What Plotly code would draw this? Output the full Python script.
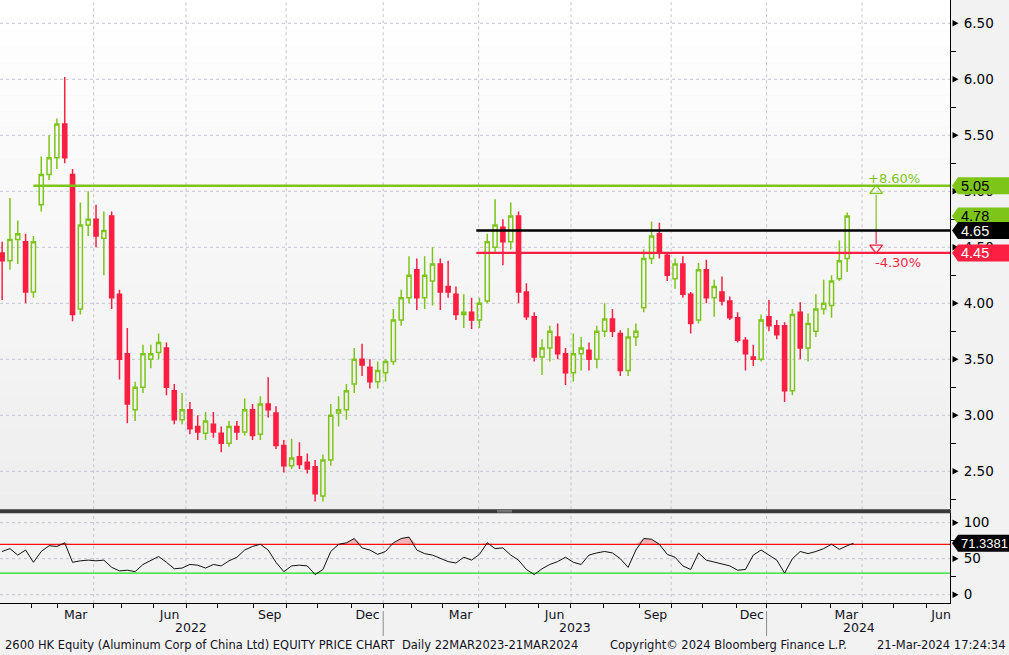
import numpy as np
import pandas as pd
import plotly.graph_objects as go

# ---------------- data ----------------
HK_HOLIDAYS = [
    "2022-02-01", "2022-02-02", "2022-02-03", "2022-04-05", "2022-04-15", "2022-04-18",
    "2022-05-02", "2022-05-09", "2022-06-03", "2022-07-01", "2022-09-12", "2022-10-04",
    "2022-12-26", "2022-12-27",
    "2023-01-02", "2023-01-23", "2023-01-24", "2023-01-25", "2023-04-05", "2023-04-07",
    "2023-04-10", "2023-05-01", "2023-05-26", "2023-06-22", "2023-09-08", "2023-10-02",
    "2023-10-23", "2023-12-25", "2023-12-26",
    "2024-01-01", "2024-02-12", "2024-02-13", "2024-03-29", "2024-04-01", "2024-04-04",
    "2024-05-01", "2024-05-15", "2024-06-10",
]

# one candle per 5 trading days
opens = [4.45, 4.38, 4.57, 4.55, 4.10, 4.88, 5.15, 5.30, 5.60, 5.15,
         3.95, 4.70, 4.75, 4.58, 4.78, 4.08, 3.55, 3.05, 3.25, 3.50,
         3.56, 3.60, 3.22, 2.96, 3.05, 2.90, 2.84, 2.92, 2.84, 2.75,
         2.90, 2.85, 3.05, 2.83, 3.10, 3.02, 2.73, 2.55, 2.63, 2.58,
         2.54, 2.28, 2.60, 3.02, 3.05, 3.28, 3.50, 3.43, 3.30, 3.38,
         3.48, 3.85, 4.05, 4.30, 4.05, 4.20, 4.35, 4.15, 4.08, 3.90,
         3.92, 3.85, 4.02, 4.50, 4.68, 4.55, 4.78, 4.10, 3.88, 3.52,
         3.60, 3.70, 3.55, 3.38, 3.55, 3.58, 3.50, 3.75, 3.86, 3.73,
         3.40, 3.70, 3.96, 4.40, 4.62, 4.43, 4.22, 4.35, 4.08, 3.85,
         4.30, 4.05, 4.10, 4.02, 3.87, 3.67, 3.52, 3.50, 3.88, 3.80,
         3.80, 3.22, 3.92, 3.60, 3.75, 3.95, 3.98, 4.22, 4.40]
highs = [4.55, 4.94, 4.74, 4.62, 4.60, 5.31, 5.50, 5.65, 6.02, 5.20,
         4.90, 5.00, 4.88, 4.82, 4.82, 4.12, 3.78, 3.30, 3.63, 3.63,
         3.73, 3.65, 3.28, 3.20, 3.12, 3.00, 3.03, 3.03, 2.90, 2.95,
         2.95, 3.15, 3.10, 3.17, 3.34, 3.08, 2.78, 2.79, 2.76, 2.66,
         2.60, 2.65, 3.10, 3.17, 3.28, 3.60, 3.64, 3.50, 3.48, 3.50,
         3.95, 4.12, 4.42, 4.40, 4.42, 4.50, 4.40, 4.38, 4.15, 4.08,
         4.05, 4.05, 4.62, 4.93, 4.75, 4.90, 4.82, 4.18, 3.92, 3.68,
         3.80, 3.82, 3.60, 3.73, 3.70, 3.65, 3.80, 4.00, 3.95, 3.76,
         3.78, 3.82, 4.48, 4.73, 4.72, 4.45, 4.40, 4.42, 4.10, 4.36,
         4.39, 4.21, 4.24, 4.06, 3.92, 3.70, 3.63, 3.90, 4.03, 3.85,
         3.83, 3.95, 4.01, 3.91, 4.08, 4.21, 4.25, 4.56, 4.81]
lows = [4.03, 4.30, 4.35, 4.00, 4.05, 4.82, 5.10, 5.20, 5.25, 3.84,
        3.90, 4.60, 4.50, 4.25, 3.95, 3.32, 2.93, 2.95, 3.20, 3.42,
        3.50, 3.18, 2.92, 2.92, 2.83, 2.78, 2.78, 2.80, 2.67, 2.72,
        2.78, 2.82, 2.78, 2.78, 2.98, 2.70, 2.49, 2.52, 2.52, 2.48,
        2.23, 2.23, 2.55, 2.90, 2.96, 3.20, 3.35, 3.24, 3.24, 3.30,
        3.45, 3.80, 4.00, 3.94, 3.95, 3.98, 3.94, 4.05, 3.85, 3.78,
        3.77, 3.78, 4.00, 4.45, 4.34, 4.48, 4.00, 3.85, 3.48, 3.36,
        3.48, 3.50, 3.27, 3.30, 3.40, 3.40, 3.42, 3.70, 3.70, 3.35,
        3.35, 3.62, 3.92, 4.35, 4.40, 4.20, 4.13, 4.05, 3.73, 3.82,
        4.00, 3.88, 3.98, 3.85, 3.65, 3.40, 3.44, 3.48, 3.75, 3.68,
        3.12, 3.18, 3.50, 3.48, 3.70, 3.90, 3.87, 4.20, 4.28]
closes = [4.38, 4.57, 4.62, 4.10, 4.55, 5.15, 5.30, 5.60, 5.30, 3.90,
          4.70, 4.75, 4.60, 4.65, 4.05, 3.50, 3.10, 3.25, 3.55, 3.55,
          3.65, 3.25, 2.96, 3.05, 2.88, 2.85, 2.95, 2.85, 2.75, 2.90,
          2.85, 3.05, 2.82, 3.10, 3.05, 2.73, 2.55, 2.62, 2.56, 2.52,
          2.30, 2.60, 3.00, 3.05, 3.22, 3.50, 3.45, 3.30, 3.40, 3.48,
          3.85, 4.05, 4.25, 4.05, 4.25, 4.35, 4.10, 4.10, 3.90, 3.92,
          3.85, 4.00, 4.55, 4.70, 4.55, 4.78, 4.10, 3.88, 3.52, 3.60,
          3.75, 3.55, 3.38, 3.55, 3.60, 3.50, 3.75, 3.86, 3.75, 3.40,
          3.70, 3.75, 4.40, 4.60, 4.45, 4.25, 4.35, 4.08, 3.82, 4.30,
          4.05, 4.15, 4.02, 3.87, 3.67, 3.55, 3.50, 3.85, 3.80, 3.72,
          3.22, 3.90, 3.60, 3.82, 3.95, 4.00, 4.20, 4.38, 4.78]

rsi_vals = [60, 64, 55, 62, 45, 60, 68, 67, 72, 45,
            47, 48, 47, 48, 38, 33, 34, 32, 42, 48,
            53, 45, 36, 37, 42, 41, 37, 42, 40, 47,
            52, 62, 67, 70, 62, 45, 32, 40, 41, 40,
            28, 35, 60, 70, 72, 78, 65, 62, 56, 60,
            72, 78, 80, 62, 57, 55, 50, 46, 44, 52,
            48, 56, 72, 64, 65, 55, 48, 35, 28, 36,
            42, 46, 52, 45, 42, 55, 58, 60, 58, 50,
            38, 62, 78, 77, 70, 56, 52, 40, 35, 58,
            48, 45, 42, 40, 34, 35, 55, 62, 55, 48,
            30, 50, 60, 57, 60, 64, 70, 63, 68]
rsi_last = 71.3381
last_date = "2024-03-21"
last_price = 4.78

level_up, level_mid, level_dn = 5.05, 4.65, 4.45
level_up_start = "2022-02-07"
level_pair_start = "2023-03-30"
pct_up_text, pct_dn_text = "+8.60%", "-4.30%"

price_ticks = [2.5, 3.0, 3.5, 4.0, 4.5, 5.0, 5.5, 6.0, 6.5]
rsi_ticks = [0, 50, 100]
rsi_hi, rsi_lo = 70, 30
month_labels = {3: "Mar", 6: "Jun", 9: "Sep", 12: "Dec"}

footer_left = "2600 HK Equity (Aluminum Corp of China Ltd) EQUITY PRICE CHART  Daily 22MAR2023-21MAR2024"
footer_mid = "Copyright\u00a9 2024 Bloomberg Finance L.P."
footer_right = "21-Mar-2024 17:24:34"

# ---------------- styling ----------------
GREEN = "#7ec51a"
RED = "#fc1f42"
GRID = "#c2c6d0"
FONT = "DejaVu Sans"
TAGFONT = "Liberation Sans"
W, H = 1009, 655
ML, MR, MT, MB = 0, 59, 0, 52
PW = W - ML - MR          # 950
PH = H - MT - MB          # 603

XMIN, XMAX = 0.64, 607.7
PRICE_DOM = [0.1554, 1.0]
RSI_DOM = [0.0, 0.1488]
PRANGE = [2.161, 6.708]
RRANGE = [-11.53, 113.06]
ppu = PH * (PRICE_DOM[1] - PRICE_DOM[0]) / (PRANGE[1] - PRANGE[0])   # px per price unit
rpu = PH * (RSI_DOM[1] - RSI_DOM[0]) / (RRANGE[1] - RRANGE[0])      # px per rsi unit

# ---------------- trading-day calendar ----------------
bdays = pd.bdate_range("2022-01-03", "2024-06-28", freq="C", holidays=HK_HOLIDAYS)
pos = pd.Series(np.arange(len(bdays)), index=bdays)
def idx(d):
    return float(pos[pd.Timestamp(d)])

n = len(opens)
cx = np.arange(n) * 5 + 2
cdates = [bdays[int(i)].strftime("%Y-%m-%d") for i in cx]
last_idx = idx(last_date)

df = pd.DataFrame({"i": np.arange(len(bdays)), "y": bdays.year, "m": bdays.month})
g = df.groupby(["y", "m"])["i"]
mfirst, mlast = g.min(), g.max()
tick_pos, tick_txt, minor_pos, qgrid = [], [], [], []
for (yy, mm), f in mfirst.items():
    l = mlast[(yy, mm)]
    b = f - 0.5
    if XMIN < b < XMAX:
        minor_pos.append(b)
        if mm in (1, 4, 7, 10):
            qgrid.append(b)
    if mm in month_labels:
        tick_pos.append((f + l) / 2)
        tick_txt.append(month_labels[mm])

years = sorted(df["y"].unique())
year_centers, year_bounds = [], []
for yy in years:
    ii = df.loc[df["y"] == yy, "i"]
    lo, hi = max(ii.min(), XMIN), min(ii.max(), XMAX)
    year_centers.append(((lo + hi) / 2, str(yy)))
    if ii.min() > 0:
        year_bounds.append(ii.min() - 0.5)

fig = go.Figure()

# ---------------- price panel ----------------
fig.add_trace(go.Candlestick(
    x=cx, open=opens, high=highs, low=lows, close=closes, text=cdates,
    increasing=dict(line=dict(color=GREEN, width=1.5), fillcolor="rgba(0,0,0,0)"),
    decreasing=dict(line=dict(color=RED, width=1.5), fillcolor=RED),
    whiskerwidth=0, xaxis="x", yaxis="y", showlegend=False, hoverinfo="skip"))

# arrow between levels
ax = last_idx + 14.5
fig.add_trace(go.Scatter(x=[ax, ax], y=[level_mid, level_up - 9 / ppu], mode="lines",
                         line=dict(color=GREEN, width=1.2), xaxis="x", yaxis="y",
                         showlegend=False, hoverinfo="skip"))
fig.add_trace(go.Scatter(x=[ax, ax], y=[level_mid, level_dn + 9 / ppu], mode="lines",
                         line=dict(color=RED, width=1.2), xaxis="x", yaxis="y",
                         showlegend=False, hoverinfo="skip"))
fig.add_trace(go.Scatter(x=[ax], y=[level_up - 5 / ppu], mode="markers",
                         marker=dict(symbol="triangle-up-open", size=11, color=GREEN,
                                     line=dict(width=1.3, color=GREEN)),
                         xaxis="x", yaxis="y", showlegend=False, hoverinfo="skip"))
fig.add_trace(go.Scatter(x=[ax], y=[level_dn + 5 / ppu], mode="markers",
                         marker=dict(symbol="triangle-down-open", size=11, color=RED,
                                     line=dict(width=1.3, color=RED)),
                         xaxis="x", yaxis="y", showlegend=False, hoverinfo="skip"))

# ---------------- RSI panel ----------------
rx = list(cx) + [last_idx]
rv = list(rsi_vals) + [rsi_last]
fig.add_trace(go.Scatter(x=rx, y=[rsi_hi] * len(rx), mode="lines", line=dict(width=0),
                         xaxis="x", yaxis="y2", showlegend=False, hoverinfo="skip"))
fig.add_trace(go.Scatter(x=rx, y=[max(v, rsi_hi) for v in rv], mode="lines", line=dict(width=0),
                         fill="tonexty", fillcolor="#f4b3b6",
                         xaxis="x", yaxis="y2", showlegend=False, hoverinfo="skip"))
fig.add_trace(go.Scatter(x=rx, y=[rsi_lo] * len(rx), mode="lines", line=dict(width=0),
                         xaxis="x", yaxis="y2", showlegend=False, hoverinfo="skip"))
fig.add_trace(go.Scatter(x=rx, y=[min(v, rsi_lo) for v in rv], mode="lines", line=dict(width=0),
                         fill="tonexty", fillcolor="#b3e6a6",
                         xaxis="x", yaxis="y2", showlegend=False, hoverinfo="skip"))
fig.add_trace(go.Scatter(x=[XMIN, XMAX], y=[rsi_hi, rsi_hi], mode="lines",
                         line=dict(color="#ff1010", width=1.3), xaxis="x", yaxis="y2",
                         showlegend=False, hoverinfo="skip"))
fig.add_trace(go.Scatter(x=[XMIN, XMAX], y=[rsi_lo, rsi_lo], mode="lines",
                         line=dict(color="#18e018", width=1.3), xaxis="x", yaxis="y2",
                         showlegend=False, hoverinfo="skip"))
fig.add_trace(go.Scatter(x=rx, y=rv, mode="lines", line=dict(color="#111111", width=1),
                         xaxis="x", yaxis="y2", showlegend=False, hoverinfo="skip"))

# ---------------- shapes ----------------
shapes = []

# soft vertical gradient behind the price panel (white at top -> light grey at bottom)
NB = 32
for k in range(NB):
    t = (k + 0.5) / NB
    c = int(round(255 - (255 - 238) * (1 - t)))
    shapes.append(dict(type="rect", xref="x domain", yref="y domain", x0=0, x1=1,
                       y0=k / NB, y1=(k + 1) / NB, fillcolor=f"rgb({c},{c},{c})",
                       line=dict(width=0), layer="below"))

dash = dict(color=GRID, width=1, dash="3px,3px")
for v in price_ticks:
    shapes.append(dict(type="line", xref="x domain", yref="y", x0=0, x1=1, y0=v, y1=v,
                       line=dash, layer="below"))
for v in rsi_ticks:
    shapes.append(dict(type="line", xref="x domain", yref="y2", x0=0, x1=1, y0=v, y1=v,
                       line=dash, layer="below"))
for b in qgrid:
    for yr in ("y domain", "y2 domain"):
        shapes.append(dict(type="line", xref="x", yref=yr, x0=b, x1=b, y0=0, y1=1,
                           line=dash, layer="below"))

# level lines
shapes.append(dict(type="line", xref="x", yref="y", x0=idx(level_up_start), x1=XMAX,
                   y0=level_up, y1=level_up, line=dict(color=GREEN, width=2.6), layer="above"))
shapes.append(dict(type="line", xref="x", yref="y", x0=idx(level_pair_start), x1=XMAX,
                   y0=level_mid, y1=level_mid, line=dict(color="#000000", width=2.6), layer="above"))
shapes.append(dict(type="line", xref="x", yref="y", x0=idx(level_pair_start), x1=XMAX,
                   y0=level_dn, y1=level_dn, line=dict(color=RED, width=2.2), layer="above"))

# panel separator
sep_top = PRICE_DOM[0]
sep_bot = RSI_DOM[1]
shapes.append(dict(type="rect", xref="paper", yref="paper", x0=0, x1=951 / PW,
                   y0=sep_bot, y1=sep_top, fillcolor="#3a3a3a", line=dict(width=0), layer="above"))
for dy in (0.35, 0.65):
    yy = sep_bot + (sep_top - sep_bot) * dy
    shapes.append(dict(type="line", xref="paper", yref="paper", x0=497 / PW, x1=512 / PW,
                       y0=yy, y1=yy, line=dict(color="#9a9a9a", width=0.8), layer="above"))

# year separators under axis
for b in year_bounds:
    shapes.append(dict(type="line", xref="x", yref="paper", x0=b, x1=b,
                       y0=(PH - 611) / PH, y1=(PH - 636) / PH,
                       line=dict(color="#8c8c8c", width=1)))

# tick triangles on right axes
def tri(yref, v, unit):
    d = 3.2 / unit
    x0, x1 = 952.5 / PW, 958.5 / PW
    return dict(type="path", xref="paper", yref=yref,
                path=f"M {x0},{v - d} L {x1},{v} L {x0},{v + d} Z",
                fillcolor="#000000", line=dict(width=0), layer="above")
for v in price_ticks:
    shapes.append(tri("y", v, ppu))
for v in rsi_ticks:
    shapes.append(tri("y2", v, rpu))

# right-side value tags
annotations = []
def tag(yref, v, unit, text, bg, fg, size=14.5):
    hh = 8.5 / unit
    xt, xb, xr = 952.0 / PW, 958.0 / PW, 1010.0 / PW
    shapes.append(dict(type="path", xref="paper", yref=yref,
                       path=(f"M {xt},{v} L {xb},{v + hh} L {xr},{v + hh} "
                             f"L {xr},{v - hh} L {xb},{v - hh} Z"),
                       fillcolor=bg, line=dict(width=0), layer="above"))
    annotations.append(dict(xref="paper", yref=yref, x=959.0 / PW, y=v, text=text,
                            xanchor="left", yanchor="middle", showarrow=False,
                            font=dict(family=TAGFONT, size=size, color=fg)))
tag("y", level_up, ppu, f"{level_up:.2f}", GREEN, "#000000")
tag("y", last_price, ppu, f"{last_price:.2f}", GREEN, "#000000")
tag("y", level_mid, ppu, f"{level_mid:.2f}", "#000000", "#ffffff")
tag("y", level_dn, ppu, f"{level_dn:.2f}", RED, "#ffffff")
tag("y2", rsi_last, rpu, f"{rsi_last:.4f}", "#000000", "#ffffff", size=13)

# percentage labels
annotations.append(dict(xref="x", yref="y", x=ax + 11.5, y=level_up + 7 / ppu, text=pct_up_text,
                        showarrow=False, font=dict(family=FONT, size=13, color=GREEN)))
annotations.append(dict(xref="x", yref="y", x=ax + 14, y=level_dn - 10 / ppu, text=pct_dn_text,
                        showarrow=False, font=dict(family=FONT, size=13, color=RED)))

# year labels
for c, t in year_centers:
    annotations.append(dict(xref="x", yref="paper", x=c, y=(PH - 627) / PH, text=t,
                            showarrow=False, yanchor="middle",
                            font=dict(family=FONT, size=12.5, color="#111122")))

# footer
fy = (PH - 645) / PH
annotations.append(dict(xref="paper", yref="paper", x=3 / PW, y=fy, text=footer_left,
                        xanchor="left", yanchor="middle", showarrow=False,
                        font=dict(family=FONT, size=11.5, color="#111122")))
annotations.append(dict(xref="paper", yref="paper", x=608 / PW, y=fy, text=footer_mid,
                        xanchor="left", yanchor="middle", showarrow=False,
                        font=dict(family=FONT, size=11.5, color="#111122")))
annotations.append(dict(xref="paper", yref="paper", x=1007 / PW, y=fy, text=footer_right,
                        xanchor="right", yanchor="middle", showarrow=False,
                        font=dict(family=FONT, size=11.5, color="#111122")))

fig.update_layout(
    width=W, height=H, autosize=False,
    margin=dict(l=ML, r=MR, t=MT, b=MB),
    paper_bgcolor="#f2f2f2", plot_bgcolor="#f2f2f2",
    showlegend=False, dragmode=False, boxgap=0.25,
    font=dict(family=FONT, size=12, color="#111122"),
    xaxis=dict(domain=[0, 1], anchor="y2", range=[XMIN, XMAX], showgrid=False,
               zeroline=False, showline=True, linecolor="#000000", linewidth=1,
               tickmode="array", tickvals=tick_pos, ticktext=tick_txt, ticks="",
               tickfont=dict(family=FONT, size=12.5, color="#111122"),
               minor=dict(tickmode="array", tickvals=minor_pos, ticks="outside",
                          ticklen=4, tickcolor="#000000", tickwidth=1, showgrid=False),
               rangeslider=dict(visible=False), fixedrange=True),
    yaxis=dict(domain=PRICE_DOM, anchor="x", side="right", range=PRANGE,
               showgrid=False, zeroline=False, showline=True, linecolor="#000000",
               linewidth=1, tickmode="array", tickvals=price_ticks,
               ticktext=[f"{v:.2f}" for v in price_ticks], ticks="outside", ticklen=10,
               tickcolor="rgba(0,0,0,0)",
               tickfont=dict(family=FONT, size=13.5, color="#000000"),
               minor=dict(tickmode="array",
                          tickvals=[v + 0.25 for v in [2.0] + price_ticks],
                          ticks="outside", ticklen=5, tickcolor="#000000", showgrid=False),
               fixedrange=True),
    yaxis2=dict(domain=RSI_DOM, anchor="x", side="right", range=RRANGE,
                showgrid=False, zeroline=False, showline=True, linecolor="#000000",
                linewidth=1, tickmode="array", tickvals=rsi_ticks,
                ticktext=[str(v) for v in rsi_ticks], ticks="outside", ticklen=10,
                tickcolor="rgba(0,0,0,0)",
                tickfont=dict(family=FONT, size=13.5, color="#000000"),
                minor=dict(tickmode="array", tickvals=[25, 75], ticks="outside",
                           ticklen=5, tickcolor="#000000", showgrid=False),
                fixedrange=True),
    shapes=shapes, annotations=annotations,
)

fig.write_html("out.html", config={"displayModeBar": False},
               post_script="document.body.style.margin='0';document.body.style.overflow='hidden';")
